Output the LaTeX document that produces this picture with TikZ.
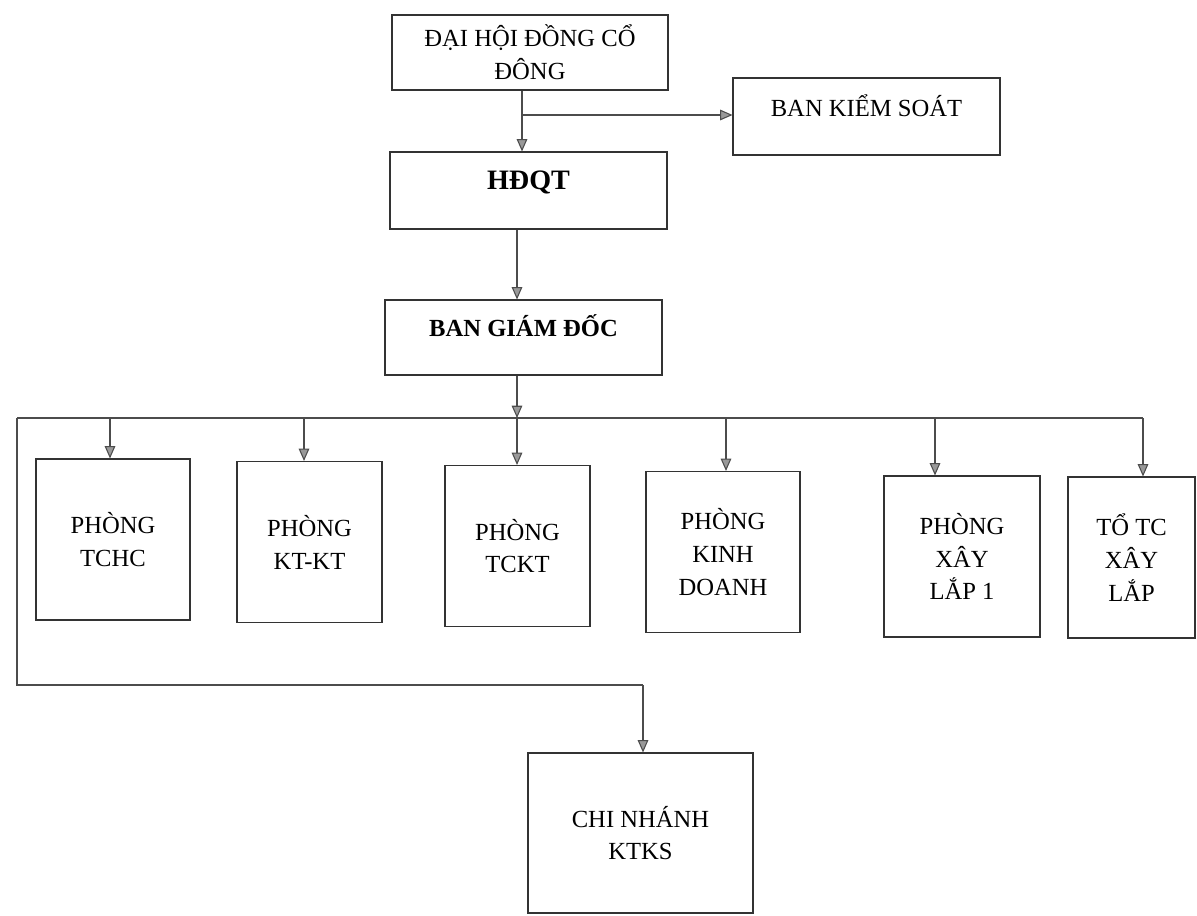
\documentclass[tikz,border=0pt]{standalone}
\usepackage{fontspec}
\setmainfont{Liberation Serif}
\usepackage{tikz}
\usepackage{tkz-euclide}
\usetikzlibrary{arrows.meta}

\begin{document}
\begin{tikzpicture}[
                        khung/.style={draw=black!80, line width=0.6pt, inner sep=0pt, font=\fontsize{14}{18.7}\selectfont},
                        phong/.style={khung, align=center, minimum height=3.22cm},
                        noi/.style={draw=black!70, line width=0.6pt},
                        muiten/.style={noi, -{Triangle[length=7pt,width=6pt,fill=black!40]}}
                    ]
                        \useasboundingbox (0,0) rectangle (23.94,-18.3);

                        \node[khung, align=center, minimum width=5.52cm, minimum height=1.5cm] (DH) at (10.6,-1.05) {ĐẠI HỘI ĐỒNG CỔ\\ĐÔNG};
                        \node[khung, minimum width=5.34cm, minimum height=1.54cm, text depth=0.44cm] (BKS) at (17.33,-2.33) {BAN KIỂM SOÁT};
                        \node[khung, minimum width=5.54cm, minimum height=1.54cm, text depth=0.4cm, font=\fontsize{16}{20}\selectfont\bfseries] (HD) at (10.57,-3.81) {HĐQT};
                        \node[khung, minimum width=5.54cm, minimum height=1.5cm, text depth=0.48cm, font=\fontsize{14}{18.7}\selectfont\bfseries] (BGD) at (10.47,-6.75) {BAN GIÁM ĐỐC};

                        \node[phong, minimum width=3.08cm] (TCHC) at (2.26,-10.79) {PHÒNG\\TCHC};
                        \node[phong, minimum width=2.9cm] (KTKT) at (6.19,-10.84) {PHÒNG\\KT-KT};
                        \node[phong, minimum width=2.9cm] (TCKT) at (10.35,-10.92) {PHÒNG\\TCKT};
                        \node[phong, minimum width=3.08cm] (KD) at (14.46,-11.04) {PHÒNG\\KINH\\DOANH};
                        \node[phong, minimum width=3.12cm] (XL) at (19.24,-11.13) {PHÒNG\\XÂY\\LẮP 1};
                        \node[phong, minimum width=2.54cm] (TO) at (22.63,-11.15) {TỔ TC\\XÂY\\LẮP};

                        \node[khung, align=center, minimum width=4.5cm, minimum height=3.2cm] (CN) at (12.81,-16.66) {CHI NHÁNH\\KTKS};

                        \tkzDefPoint(10.44,-2.3){R}
                        \tkzDefPoint(10.34,-8.36){G}
                        \tkzDefPoints{0.34/-8.36/T, 22.86/-8.36/P, 0.34/-13.7/U, 12.86/-13.7/V}
                        \tkzDefPoints{2.2/-8.36/B1, 6.08/-8.36/B2, 14.52/-8.36/B4, 18.7/-8.36/B5, 22.86/-8.36/B6}

                        \draw[muiten] (DH.south -| R) -- (HD.north -| R);
                        \draw[muiten] (R) -- (R -| BKS.west);
                        \draw[muiten] (HD.south -| G) -- (BGD.north -| G);
                        \draw[muiten] (BGD.south -| G) -- (G);

                        \draw[noi] (T) -- (P);
                        \draw[muiten] (G) -- (G |- TCKT.north);
                        \draw[muiten] (B1) -- (B1 |- TCHC.north);
                        \draw[muiten] (B2) -- (B2 |- KTKT.north);
                        \draw[muiten] (B4) -- (B4 |- KD.north);
                        \draw[muiten] (B5) -- (B5 |- XL.north);
                        \draw[muiten] (B6) -- (B6 |- TO.north);

                        \draw[noi] (T) -- (U) -- (V);
                        \draw[muiten] (V) -- (V |- CN.north);
                    \end{tikzpicture}
\end{document}
